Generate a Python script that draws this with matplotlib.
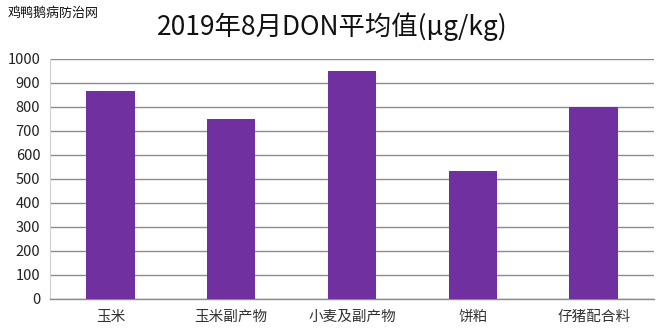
import matplotlib
matplotlib.use("Agg")
import matplotlib.pyplot as plt

plt.rcParams['font.family'] = ['Noto Sans CJK SC', 'DejaVu Sans']

categories = ["玉米", "玉米副产物", "小麦及副产物", "饼粕", "仔猪配合料"]
values = [865, 752, 948, 533, 800]
yticks = [0, 100, 200, 300, 400, 500, 600, 700, 800, 900, 1000]
title = "2019年8月DON平均值(μg/kg)"
watermark = "鸡鸭鹅病防治网"

fig = plt.figure(figsize=(6.63, 3.34), dpi=100)
ax = fig.add_axes([50/663, 1 - 299/334, (654-50)/663, (299-59)/334])

x = list(range(len(categories)))
ax.bar(x, values, width=0.4, color="#7030A0", zorder=3)
ax.set_xlim(-0.5, len(categories) - 0.5)
ax.set_ylim(0, 1000)
ax.set_yticks(yticks)
ax.set_yticklabels([str(t) for t in yticks], fontsize=10.5, color="#222222")
ax.set_xticks(x)
ax.set_xticklabels(categories, fontsize=10.5, color="#333333")
ax.tick_params(axis='y', length=0, pad=7)
ax.tick_params(axis='x', length=0, pad=8)
ax.grid(axis='y', color="#8c8c8c", linewidth=1.0, zorder=0)
for s in ["top", "right"]:
    ax.spines[s].set_visible(False)
ax.spines["left"].set_color("#d0d0d0")
ax.spines["bottom"].set_color("#8c8c8c")
ax.spines["bottom"].set_linewidth(1.0)

fig.text(332/663, 1 - 27/334, title, fontsize=19, ha="center", va="center", color="#111111")
fig.text(8/663, 1 - 13/334, watermark, fontsize=9.4, ha="left", va="center", color="#111111")

fig.savefig("out.png", dpi=100)
